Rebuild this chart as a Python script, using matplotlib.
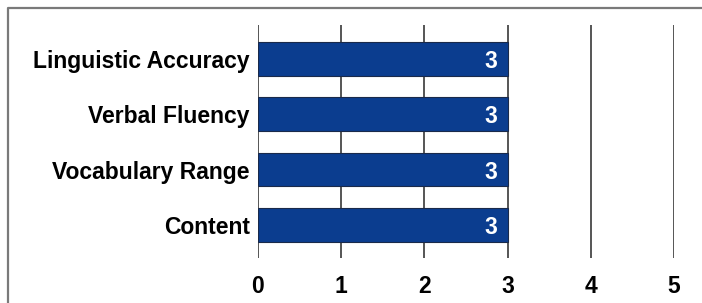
import matplotlib
matplotlib.use("agg")
import matplotlib.pyplot as plt
from matplotlib.lines import Line2D

categories = ['Linguistic Accuracy', 'Verbal Fluency', 'Vocabulary Range', 'Content']
scores = [3, 3, 3, 3]
x_ticks = [0, 1, 2, 3, 4, 5]

plt.rcParams['font.family'] = ['Liberation Sans', 'DejaVu Sans']
plt.rcParams['font.weight'] = 'bold'

fig = plt.figure(figsize=(7.02, 3.03), dpi=100)
ax = fig.add_axes([258 / 702, 1 - 258 / 303, (674 - 258) / 702, (258 - 25) / 303])

# outer frame: only the left and top edges show in the picture
fx, fy = 8 / 702, 1 - 8 / 303
fig.lines.append(Line2D([fx, fx, 1.0], [0.0, fy, fy], transform=fig.transFigure,
                        color='#7a7a7a', linewidth=1.6))

pos = list(range(len(categories)))
bars = ax.barh(pos, scores, height=0.61, color='#0b3d8f', edgecolor='#1a2a4a',
               linewidth=0.8, zorder=3)
for b, v in zip(bars, scores):
    ax.text(b.get_width() - 0.12, b.get_y() + b.get_height() / 2, str(v),
            ha='right', va='center_baseline', color='white', fontsize=16.5,
            fontweight='bold', zorder=4)

ax.set_xlim(0, 5)
ax.set_ylim(3.6, -0.615)
ax.set_xticks(x_ticks)
ax.set_yticks(pos)
ax.set_yticklabels(categories)
ax.grid(axis='x', color='#555555', linewidth=1.4, zorder=0)
ax.yaxis.grid(False)
for s in ax.spines.values():
    s.set_visible(False)
ax.tick_params(axis='x', length=0, pad=12.5, labelsize=16.5)
ax.tick_params(axis='y', length=0, pad=6, labelsize=16.5)
ax.set_axisbelow(True)

fig.savefig('out.png', dpi=100)
